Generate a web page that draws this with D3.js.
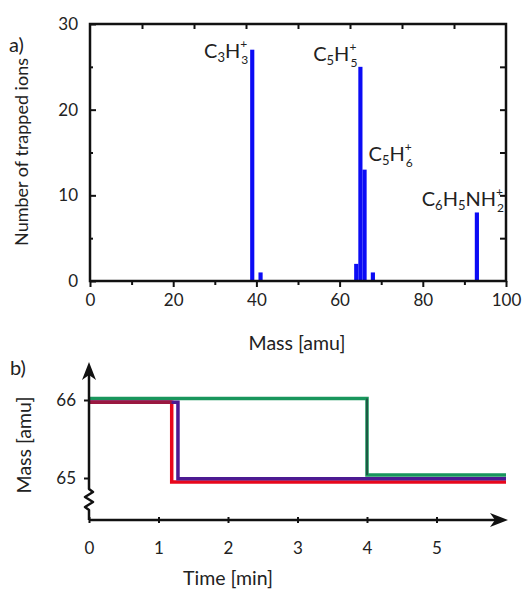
<!DOCTYPE html>
<html>
<head>
<meta charset="utf-8">
<script src="https://cdn.jsdelivr.net/npm/d3@7"></script>
<style>
  body { margin: 0; background: #fff; }
  svg text { font-family: Lato, "Open Sans", sans-serif; fill: #222; }
</style>
</head>
<body>
<div id="chart"></div>
<script>
// panel a data: ion masses and counts
var massValues = [39, 41, 64, 65, 66, 68, 93];
var ionCounts = [27, 1, 2, 25, 13, 1, 8];
var massTicks = [0, 20, 40, 60, 80, 100];
var countTicks = [0, 10, 20, 30];

// panel b data: step traces of the three ions
var greenTimes = [0, 4, 4, 6];
var greenMass = [66.02, 66.02, 65.04, 65.04];
var blueTimes = [0, 1.28, 1.28, 6];
var blueMass = [65.97, 65.97, 64.99, 64.99];
var redTimes = [0, 1.19, 1.19, 6];
var redMass = [65.97, 65.97, 64.95, 64.95];
var timeTicks = [0, 1, 2, 3, 4, 5];
var massTicksB = [65, 66];

var width = 523, height = 591;
var ink = "#111";
var fs = 17;   // tick labels
var ft = 19.5; // axis titles

var svg = d3.select("#chart").append("svg")
    .attr("width", width)
    .attr("height", height);

// ---------- panel a ----------
var xA = d3.scaleLinear().domain([0, 100]).range([90, 506]);
var yA = d3.scaleLinear().domain([0, 30]).range([281, 24]);

// bars
svg.append("g").selectAll("rect")
    .data(massValues.map(function(m, i) { return {m: m, c: ionCounts[i]}; }))
    .enter().append("rect")
    .attr("x", function(d) { return xA(d.m - 0.5); })
    .attr("width", function(d) { return xA(d.m + 0.5) - xA(d.m - 0.5); })
    .attr("y", function(d) { return yA(d.c); })
    .attr("height", function(d) { return yA(0) - yA(d.c); })
    .attr("fill", "#0b0bf5");

// bottom axis (labels, outward ticks)
svg.append("g")
    .attr("transform", "translate(0," + yA(0) + ")")
    .call(d3.axisBottom(xA).tickValues(massTicks).tickSize(6).tickPadding(7));
svg.append("g")
    .attr("transform", "translate(0," + yA(0) + ")")
    .call(d3.axisBottom(xA).tickValues(d3.range(10, 100, 20)).tickSize(4).tickFormat(""));

// top ticks (inward)
svg.append("g")
    .attr("transform", "translate(0," + yA(30) + ")")
    .call(d3.axisBottom(xA).tickValues(d3.range(12.5, 100, 12.5)).tickSize(5).tickFormat(""));

// left axis
svg.append("g")
    .attr("transform", "translate(" + xA(0) + ",0)")
    .call(d3.axisRight(yA).tickValues(countTicks).tickSize(6).tickFormat(""));
svg.append("g")
    .attr("transform", "translate(" + xA(0) + ",0)")
    .call(d3.axisRight(yA).tickValues([5, 15, 25]).tickSize(3).tickFormat(""));
svg.append("g")
    .attr("transform", "translate(" + xA(0) + ",0)")
    .call(d3.axisLeft(yA).tickValues(countTicks).tickSize(0).tickPadding(12));

// right ticks (inward)
svg.append("g")
    .attr("transform", "translate(" + xA(100) + ",0)")
    .call(d3.axisLeft(yA).tickValues([5, 10, 15, 20, 25]).tickSize(6).tickFormat(""));

// frame
svg.append("rect")
    .attr("x", xA(0)).attr("y", yA(30))
    .attr("width", xA(100) - xA(0)).attr("height", yA(0) - yA(30))
    .attr("fill", "none").attr("stroke", ink).attr("stroke-width", 2.5);

svg.selectAll(".domain").remove();
svg.selectAll(".tick line").attr("stroke", ink).attr("stroke-width", 2);
svg.selectAll(".tick text").attr("font-size", fs).attr("fill", "#222");

svg.append("text").attr("x", 297).attr("y", 350)
    .attr("text-anchor", "middle").attr("font-size", ft)
    .text("Mass [amu]");
svg.append("text")
    .attr("transform", "translate(28," + 152 + ")rotate(-90)")
    .attr("text-anchor", "middle").attr("font-size", 18)
    .text("Number of trapped ions");
svg.append("text").attr("x", 9).attr("y", 52).attr("font-size", 20).text("a)");

// ion label: letters with subscripts, the charge "+" stacked above the last subscript
function ionLabel(x, y, anchor, base, lastSub) {
  var g = svg.append("g");
  var t = g.append("text").attr("x", 0).attr("y", y).attr("font-size", 20);
  base.forEach(function(b) {
    t.append("tspan").attr("y", y).attr("font-size", 20).text(b[0]);
    if (b[1]) t.append("tspan").attr("y", y + 4).attr("font-size", 13).text(b[1]);
  });
  var w = t.node().getComputedTextLength();
  g.append("text").attr("x", w + 1).attr("y", y + 6).attr("font-size", 12).text(lastSub);
  g.append("text").attr("x", w).attr("y", y - 10).attr("font-size", 12).text("+");
  var total = w + 8;
  var left = anchor === "end" ? x - total : x;
  g.attr("transform", "translate(" + left + ",0)");
}

ionLabel(xA(39) - 4, 58, "end", [["C", "3"], ["H", ""]], "3");
ionLabel(xA(65) - 3, 61, "end", [["C", "5"], ["H", ""]], "5");
ionLabel(xA(66) + 4, 161, "start", [["C", "5"], ["H", ""]], "6");
ionLabel(504, 206, "end", [["C", "6"], ["H", "5"], ["NH", ""]], "2");

// ---------- panel b ----------
var xB = d3.scaleLinear().domain([0, 6]).range([89, 506]);
var yB = d3.scaleLinear().domain([65, 66]).range([478, 400]);
var axisY = 520;

var line = d3.line().x(function(d) { return xB(d[0]); }).y(function(d) { return yB(d[1]); });
function pairs(ts, ms) { return ts.map(function(t, i) { return [t, ms[i]]; }); }

svg.append("path").datum(pairs(greenTimes, greenMass)).attr("d", line)
    .attr("fill", "none").attr("stroke", "#19965c").attr("stroke-width", 3.5);
svg.append("path").datum(pairs(redTimes, redMass)).attr("d", line)
    .attr("fill", "none").attr("stroke", "#e8071c").attr("stroke-width", 3.5);
svg.append("path").datum(pairs(blueTimes, blueMass)).attr("d", line)
    .attr("fill", "none").attr("stroke", "#4c1a92").attr("stroke-width", 3.5);
// where red and blue run together at 66 they read as maroon
var shared = d3.min([redTimes[1], blueTimes[1]]);
svg.append("path").datum([[0, redMass[0]], [shared, redMass[0]]]).attr("d", line)
    .attr("fill", "none").attr("stroke", "#9a1840").attr("stroke-width", 3.5);
// dark seam on green drop
svg.append("line").attr("x1", xB(4)).attr("x2", xB(4))
    .attr("y1", yB(66.02)).attr("y2", yB(65.04))
    .attr("stroke", "#1c5a45").attr("stroke-width", 2);

// x axis with arrow
svg.append("line").attr("x1", xB(0)).attr("x2", xB(6) - 6)
    .attr("y1", axisY).attr("y2", axisY).attr("stroke", ink).attr("stroke-width", 2.5);
svg.append("path")
    .attr("d", "M" + (xB(6) + 2) + "," + axisY + " l-18,-7 l5,7 l-5,7 z")
    .attr("fill", ink);
svg.append("g")
    .attr("transform", "translate(0," + axisY + ")")
    .call(d3.axisBottom(xB).tickValues(timeTicks).tickSize(3).tickPadding(19).tickFormat(d3.format("d")))
    .call(function(g) { g.select(".domain").remove(); })
    .call(function(g) { g.selectAll(".tick line").attr("y1", -3).attr("stroke", ink).attr("stroke-width", 2); })
    .call(function(g) { g.selectAll(".tick text").attr("font-size", fs).attr("fill", "#222"); });

// y axis with break and arrow
var brk = "M" + xB(0) + "," + axisY + " L" + xB(0) + ",510" +
    " l-4,-3 l8,-5 l-8,-5 l8,-5 l-4,-3" +
    " L" + xB(0) + ",372";
svg.append("path").attr("d", brk).attr("fill", "none")
    .attr("stroke", ink).attr("stroke-width", 2.5).attr("stroke-linejoin", "round");
svg.append("path")
    .attr("d", "M" + xB(0) + ",362 l-7,18 l7,-5 l7,5 z")
    .attr("fill", ink);
svg.append("g")
    .attr("transform", "translate(" + xB(0) + ",0)")
    .call(d3.axisLeft(yB).tickValues(massTicksB).tickSize(5).tickPadding(8).tickFormat(d3.format("d")))
    .call(function(g) { g.select(".domain").remove(); })
    .call(function(g) { g.selectAll(".tick line").attr("stroke", ink).attr("stroke-width", 2); })
    .call(function(g) { g.selectAll(".tick text").attr("font-size", fs).attr("fill", "#222"); });

svg.append("text").attr("x", 228).attr("y", 585)
    .attr("text-anchor", "middle").attr("font-size", ft)
    .text("Time [min]");
svg.append("text")
    .attr("transform", "translate(31,445)rotate(-90)")
    .attr("text-anchor", "middle").attr("font-size", ft)
    .text("Mass [amu]");
svg.append("text").attr("x", 10).attr("y", 375).attr("font-size", 20).text("b)");
</script>
</body>
</html>
